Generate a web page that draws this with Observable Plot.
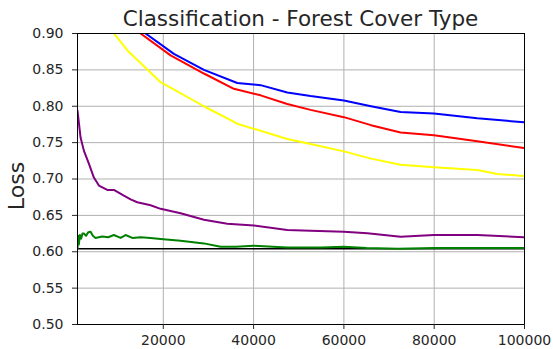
<!DOCTYPE html>
<html>
<head>
<meta charset="utf-8">
<script src="https://cdn.jsdelivr.net/npm/d3@7"></script>
<script src="https://cdn.jsdelivr.net/npm/@observablehq/plot@0.6"></script>
<style>
  body { margin: 0; background: #fff; font-family: "DejaVu Sans", sans-serif; }
  #wrap { position: relative; width: 553px; height: 349px; background: #fff; }
  #title { position: absolute; z-index: 2; left: 50px; width: 501px; top: 8px; line-height: 1; text-align: center; font-size: 21.5px; color: #262626; white-space: nowrap; }
  #chart { position: absolute; z-index: 1; left: 0; top: 26px; }
  #ylabel { position: absolute; z-index: 2; left: 17px; top: 186px; line-height: 1; transform: translate(-50%, -50%) rotate(-90deg); font-size: 22px; color: #262626; }
</style>
</head>
<body>
<div id="wrap">
  <div id="chart"></div>
  <div id="title">Classification - Forest Cover Type</div>
  <div id="ylabel">Loss</div>
</div>
<script>
const xTicks = [20000, 40000, 60000, 80000, 100000];
const yTicks = [0.50, 0.55, 0.60, 0.65, 0.70, 0.75, 0.80, 0.85, 0.90];

const blueX = [16080, 22350, 29000, 36390, 41550, 47460, 52620, 60000, 66000, 72560, 79940, 89550, 99870];
const blueY = [0.900, 0.872, 0.850, 0.832, 0.829, 0.819, 0.814, 0.808, 0.800, 0.792, 0.790, 0.7835, 0.778];

const redX = [14970, 21620, 29000, 35640, 41550, 47460, 52620, 60000, 66000, 72560, 79940, 89550, 99870];
const redY = [0.900, 0.870, 0.845, 0.824, 0.815, 0.803, 0.795, 0.785, 0.774, 0.764, 0.760, 0.752, 0.7425];

const yellowX = [9060, 12020, 19400, 29000, 36390, 47460, 52620, 60000, 66000, 72560, 79940, 89550, 94000, 99870];
const yellowY = [0.900, 0.877, 0.833, 0.800, 0.776, 0.755, 0.748, 0.738, 0.728, 0.7195, 0.716, 0.7125, 0.707, 0.704];

const purpleX = [1000, 1680, 2410, 3520, 4630, 5740, 7600, 9060, 11270, 12760, 14240, 17190, 19400, 23830, 29000, 34170, 40060, 47460, 52620, 60000, 65200, 72560, 79940, 89550, 99870];
const purpleY = [0.794, 0.757, 0.739, 0.721, 0.702, 0.691, 0.685, 0.685, 0.677, 0.672, 0.668, 0.664, 0.659, 0.653, 0.644, 0.6385, 0.636, 0.630, 0.629, 0.6276, 0.6253, 0.6207, 0.623, 0.623, 0.620];

const greenX = [1000, 1150, 1300, 1530, 1800, 2100, 2410, 2900, 3400, 3900, 4400, 5000, 5700, 6490, 7800, 9060, 10540, 11650, 13130, 15000, 17190, 19400, 23830, 29000, 32680, 36000, 40060, 47460, 55000, 60000, 65000, 72000, 80000, 90000, 100000];
const greenY = [0.6045, 0.622, 0.610, 0.623, 0.618, 0.625, 0.625, 0.622, 0.627, 0.6276, 0.622, 0.619, 0.620, 0.621, 0.620, 0.623, 0.619, 0.623, 0.619, 0.620, 0.619, 0.6175, 0.615, 0.6115, 0.607, 0.607, 0.6083, 0.606, 0.606, 0.607, 0.605, 0.604, 0.605, 0.605, 0.605];

const baselineX = [1000, 100000];
const baselineY = [0.604, 0.604];

const series = [
  {name: "baseline", color: "#000000", xs: baselineX, ys: baselineY},
  {name: "green", color: "#008000", xs: greenX, ys: greenY},
  {name: "purple", color: "#800080", xs: purpleX, ys: purpleY},
  {name: "yellow", color: "#ffff00", xs: yellowX, ys: yellowY},
  {name: "red", color: "#ff0000", xs: redX, ys: redY},
  {name: "blue", color: "#0000ff", xs: blueX, ys: blueY}
];

const lineMarks = series.map(s =>
  Plot.line(s.xs.map((x, i) => ({x, y: s.ys[i]})), {
    x: "x", y: "y", stroke: s.color, strokeWidth: s.name === "baseline" ? 1.5 : 2, clip: true
  })
);

const chart = Plot.plot({
  width: 553,
  height: 323,
  marginLeft: 77,
  marginRight: 29,
  marginTop: 7,
  marginBottom: 25,
  style: {fontFamily: "DejaVu Sans, sans-serif", fontSize: "14px", color: "#262626", background: "transparent", overflow: "visible"},
  x: {domain: [1000, 100000], label: null},
  y: {domain: [0.5, 0.9], label: null},
  marks: [
    Plot.gridX(xTicks, {stroke: "#b0b0b0", strokeOpacity: 1, strokeWidth: 1}),
    Plot.gridY(yTicks, {stroke: "#b0b0b0", strokeOpacity: 1, strokeWidth: 1}),
    ...lineMarks,
    Plot.frame({stroke: "#000"}),
    Plot.axisX({ticks: xTicks, tickFormat: d => String(d), tickSize: 5, tickPadding: 6, label: null, fontSize: 14}),
    Plot.axisY({ticks: yTicks, tickFormat: d => d.toFixed(2), tickSize: 5, tickPadding: 9, label: null, fontSize: 14})
  ]
});
document.getElementById("chart").appendChild(chart);
</script>
</body>
</html>
